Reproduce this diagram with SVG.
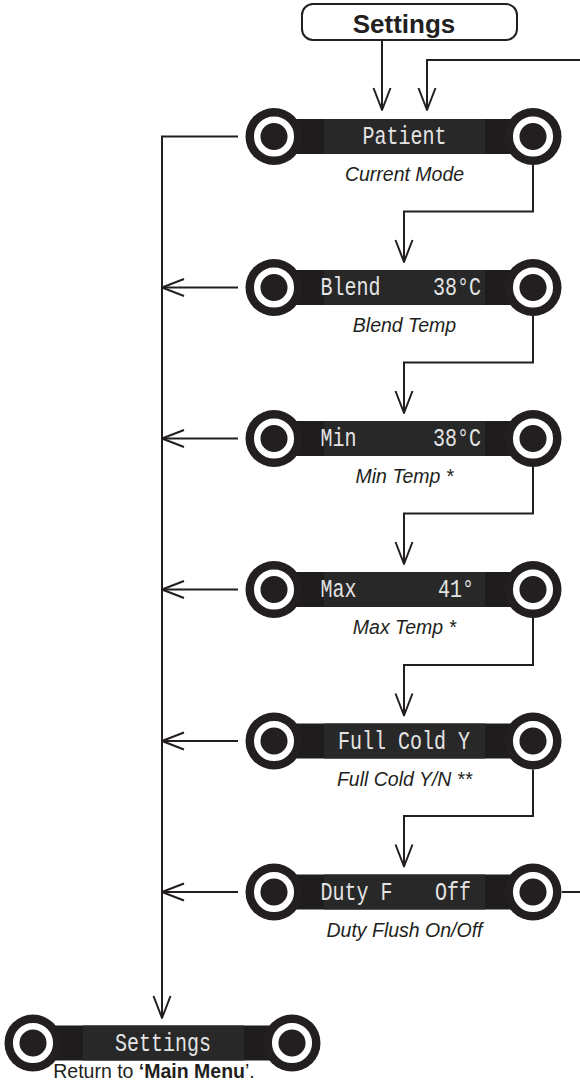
<svg xmlns="http://www.w3.org/2000/svg" xmlns:xlink="http://www.w3.org/1999/xlink" width="580" height="1092" viewBox="0 0 580 1092">
<style>
.ln{fill:none;stroke:#231f20;stroke-width:2}
.lcd{font-family:"Liberation Mono","DejaVu Sans Mono",monospace;font-size:20px;fill:#e4e4e4}
.cap{font-family:"Liberation Sans",Arial,sans-serif;font-size:19.5px;font-style:italic;fill:#231f20;text-anchor:middle}
.ret{font-family:"Liberation Sans",Arial,sans-serif;font-size:19.5px;fill:#231f20;text-anchor:middle}
.title{font-family:"Liberation Sans",Arial,sans-serif;font-size:26px;font-weight:bold;fill:#231f20;text-anchor:middle}
</style>
<defs>
<marker id="arr" markerUnits="userSpaceOnUse" markerWidth="26" markerHeight="22" refX="23" refY="10" orient="auto">
<path d="M1,1.5 L23,10 L1,18.5" fill="none" stroke="#231f20" stroke-width="2" stroke-linejoin="round"/>
</marker>
<g id="knob">
<circle r="28.5" fill="#231f20"/>
<circle r="16.8" fill="#231f20" stroke="#ffffff" stroke-width="6.5"/>
</g>
<g id="shape">
<rect x="0" y="-17.5" width="259" height="35" fill="#1e1c1d"/>
<rect x="50" y="-17.5" width="161" height="35" fill="#282828"/>
<use xlink:href="#knob" x="0" y="0"/>
<use xlink:href="#knob" x="259" y="0"/>
</g>
</defs>

<g id="connectors">
<path class="ln" d="M382,40 V110" marker-end="url(#arr)"/>
<path class="ln" d="M580,60 H427 V110" marker-end="url(#arr)"/>
<path class="ln" d="M238,136.5 H162 V1018" marker-end="url(#arr)"/>
<path class="ln" d="M238,287.5 H162" marker-end="url(#arr)"/>
<path class="ln" d="M238,438.5 H162" marker-end="url(#arr)"/>
<path class="ln" d="M238,589.5 H162" marker-end="url(#arr)"/>
<path class="ln" d="M238,741 H162" marker-end="url(#arr)"/>
<path class="ln" d="M238,892 H162" marker-end="url(#arr)"/>
<path class="ln" d="M533,165 V211.5 H404 V262" marker-end="url(#arr)"/>
<path class="ln" d="M533,316 V362.5 H404 V413" marker-end="url(#arr)"/>
<path class="ln" d="M533,467 V513.5 H404 V564" marker-end="url(#arr)"/>
<path class="ln" d="M533,618 V665 H404 V715.5" marker-end="url(#arr)"/>
<path class="ln" d="M533,769.5 V816 H404 V866.5" marker-end="url(#arr)"/>
<path class="ln" d="M562,892 H580"/>
</g>

<g id="settings-top">
<rect x="302" y="4" width="215" height="36" rx="11" fill="#ffffff" stroke="#231f20" stroke-width="2"/>
<text class="title" x="404" y="33">Settings</text>
</g>

<g id="patient">
<use xlink:href="#shape" x="274" y="136.5"/>
<text class="lcd" text-anchor="middle" transform="translate(404.5,144) scale(1,1.3)">Patient</text>
<text class="cap" x="404.5" y="181">Current Mode</text>
</g>

<g id="blend">
<use xlink:href="#shape" x="274" y="287.5"/>
<text class="lcd" transform="translate(320.5,295) scale(1,1.3)">Blend</text>
<text class="lcd" text-anchor="end" transform="translate(481,295) scale(1,1.3)">38°C</text>
<text class="cap" x="404.5" y="332">Blend Temp</text>
</g>

<g id="min">
<use xlink:href="#shape" x="274" y="438.5"/>
<text class="lcd" transform="translate(320.5,446) scale(1,1.3)">Min</text>
<text class="lcd" text-anchor="end" transform="translate(481,446) scale(1,1.3)">38°C</text>
<text class="cap" x="404.5" y="483">Min Temp *</text>
</g>

<g id="max">
<use xlink:href="#shape" x="274" y="589.5"/>
<text class="lcd" transform="translate(320.5,597) scale(1,1.3)">Max</text>
<text class="lcd" text-anchor="end" transform="translate(474,597) scale(1,1.3)">41°</text>
<text class="cap" x="404.5" y="634">Max Temp *</text>
</g>

<g id="fullcold">
<use xlink:href="#shape" x="274" y="741"/>
<text class="lcd" text-anchor="middle" transform="translate(404,748.5) scale(1,1.3)">Full Cold Y</text>
<text class="cap" x="404.5" y="785.5">Full Cold Y/N **</text>
</g>

<g id="duty">
<use xlink:href="#shape" x="274" y="892"/>
<text class="lcd" transform="translate(320.5,899.5) scale(1,1.3)">Duty F</text>
<text class="lcd" text-anchor="end" transform="translate(471,899.5) scale(1,1.3)">Off</text>
<text class="cap" x="404.5" y="936.5">Duty Flush On/Off</text>
</g>

<g id="settings-bottom">
<use xlink:href="#shape" x="33" y="1043"/>
<text class="lcd" text-anchor="middle" transform="translate(163,1050.5) scale(1,1.3)">Settings</text>
<text class="ret" x="154" y="1078">Return to <tspan font-weight="bold">‘Main Menu</tspan>’.</text>
</g>
</svg>
